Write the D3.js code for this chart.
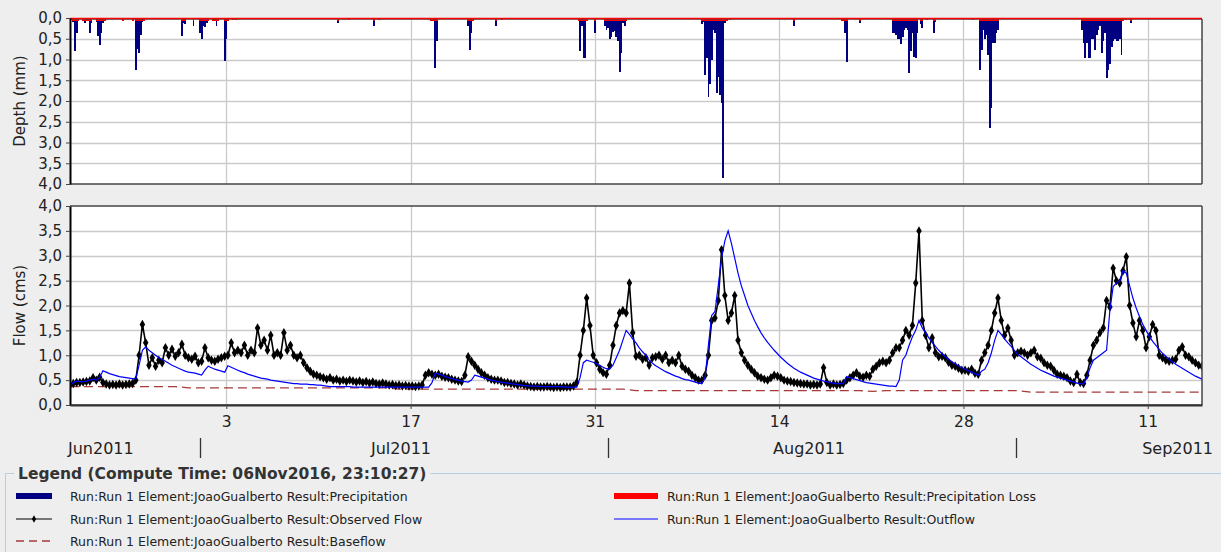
<!DOCTYPE html>
<html><head><meta charset="utf-8">
<script src="https://cdn.jsdelivr.net/npm/d3@7"></script>
<style>
html,body{margin:0;padding:0;background:#eeeeee;}
svg{display:block;font-family:"DejaVu Sans",sans-serif;}
</style></head><body>
<svg id="chart" width="1221" height="552"></svg>
<script>
// ---------------- DATA ----------------
const startTime = Date.UTC(2011, 5, 21, 3);   // 21Jun2011 03:00
const endTime   = Date.UTC(2011, 8, 15, 3);   // 15Sep2011 03:00
const flowStepHours = 6;

// Observed flow (cms), every 6 hours from startTime
const observedFlow = [
 0.40,0.43,0.45,0.45, 0.46,0.47,0.48,0.55, 0.50,0.56,0.45,0.42, 0.40,0.41,0.40,0.42,
 0.40,0.41,0.42,0.43, 0.50,1.00,1.62,1.25, 0.80,0.95,0.78,0.90, 0.85,1.15,1.00,1.12,
 0.98,1.05,1.22,1.00, 0.95,0.92,0.98,0.85, 0.88,1.15,0.95,0.90, 0.88,0.92,0.95,0.98,
 1.00,1.25,1.05,1.10, 1.05,1.20,1.00,1.10, 1.05,1.55,1.20,1.30, 1.10,1.40,1.00,1.05,
 1.00,1.45,1.10,1.20, 1.00,0.95,1.00,0.85, 0.75,0.68,0.62,0.60, 0.57,0.55,0.52,0.55,
 0.50,0.52,0.48,0.50, 0.47,0.50,0.48,0.46, 0.48,0.45,0.47,0.44, 0.46,0.43,0.42,0.44,
 0.42,0.40,0.41,0.39, 0.40,0.38,0.39,0.38, 0.38,0.37,0.38,0.40, 0.60,0.65,0.62,0.60,
 0.62,0.58,0.56,0.55, 0.52,0.50,0.48,0.47, 0.60,0.97,0.88,0.80, 0.72,0.65,0.60,0.55,
 0.52,0.50,0.50,0.48, 0.45,0.45,0.43,0.42, 0.40,0.42,0.40,0.38, 0.37,0.36,0.37,0.36,
 0.36,0.37,0.36,0.35, 0.36,0.35,0.36,0.36, 0.36,0.38,0.45,1.00, 1.50,2.15,1.60,1.00,
 0.85,0.72,0.65,0.62, 0.80,1.20,1.60,1.85, 1.90,1.85,2.45,1.45, 0.98,1.00,0.92,0.95,
 0.80,0.95,0.97,1.00, 0.92,1.00,0.85,0.90, 0.85,1.00,0.78,0.72, 0.68,0.60,0.55,0.50,
 0.50,0.60,1.00,1.70, 1.75,2.10,3.12,2.20, 1.70,1.85,2.20,1.30, 1.05,0.90,0.80,0.72,
 0.65,0.58,0.55,0.52, 0.50,0.55,0.60,0.58, 0.55,0.50,0.48,0.47, 0.45,0.44,0.43,0.42,
 0.42,0.40,0.41,0.40, 0.42,0.75,0.45,0.40, 0.42,0.40,0.41,0.43, 0.50,0.55,0.60,0.65,
 0.58,0.56,0.60,0.58, 0.72,0.78,0.85,0.88, 0.85,0.90,1.05,1.15, 1.15,1.30,1.50,1.40,
 1.60,2.45,3.50,1.70, 1.40,1.15,1.35,1.05, 0.97,0.98,0.95,0.86, 0.80,0.78,0.74,0.70,
 0.70,0.68,0.72,0.64, 0.62,0.90,1.05,1.20, 1.50,1.85,2.15,1.70, 1.40,1.55,1.30,1.00,
 1.05,1.08,1.05,1.00, 1.05,1.10,0.97,0.94, 0.85,0.80,0.78,0.70, 0.62,0.60,0.58,0.55,
 0.48,0.45,0.62,0.45, 0.43,0.60,0.90,1.20, 1.30,1.45,1.55,2.10, 1.97,2.75,2.50,2.45,
 2.70,2.98,2.00,1.65, 1.37,1.70,1.50,1.15, 1.37,1.62,1.50,1.00, 0.95,0.90,0.88,0.90,
 0.92,1.10,1.17,1.00, 0.97,0.90,0.85,0.80, 0.78
];

// Simulated outflow (cms), every 6 hours from startTime
const outflow = [
 0.38,0.45,0.48,0.47, 0.47,0.48,0.50,0.52, 0.50,0.55,0.69,0.66, 0.63,0.61,0.59,0.57,
 0.56,0.55,0.54,0.53, 0.53,0.80,1.10,1.17, 1.10,1.05,1.00,0.95, 0.92,0.88,0.84,0.80,
 0.77,0.74,0.71,0.68, 0.66,0.65,0.64,0.62, 0.60,0.70,0.78,0.75, 0.72,0.70,0.68,0.66,
 0.79,0.76,0.73,0.70, 0.67,0.65,0.62,0.60, 0.58,0.56,0.54,0.53, 0.52,0.50,0.49,0.48,
 0.47,0.46,0.45,0.44, 0.43,0.43,0.42,0.42, 0.42,0.41,0.41,0.40, 0.40,0.39,0.38,0.37,
 0.37,0.37,0.37,0.37, 0.37,0.37,0.36,0.36, 0.36,0.36,0.36,0.36, 0.36,0.36,0.36,0.36,
 0.36,0.36,0.36,0.36, 0.36,0.36,0.36,0.36, 0.36,0.36,0.36,0.36, 0.36,0.36,0.45,0.64,
 0.62,0.60,0.57,0.55, 0.53,0.51,0.50,0.48, 0.47,0.46,0.50,0.60, 0.58,0.56,0.54,0.52,
 0.50,0.49,0.47,0.46, 0.45,0.44,0.43,0.42, 0.41,0.40,0.39,0.39, 0.38,0.38,0.38,0.37,
 0.37,0.37,0.37,0.37, 0.37,0.37,0.36,0.36, 0.36,0.36,0.36,0.55, 0.85,0.90,0.88,0.86,
 0.83,0.80,0.76,0.73, 0.72,0.80,0.95,1.10, 1.30,1.50,1.42,1.33, 1.25,1.15,1.07,1.00,
 0.90,0.84,0.79,0.75, 0.71,0.67,0.64,0.61, 0.58,0.56,0.53,0.51, 0.50,0.48,0.46,0.44,
 0.43,0.55,1.20,1.80, 1.88,2.40,2.95,3.30, 3.50,3.25,2.95,2.65, 2.40,2.20,2.00,1.85,
 1.70,1.57,1.45,1.35, 1.26,1.18,1.10,1.03, 0.96,0.90,0.84,0.79, 0.74,0.70,0.66,0.63,
 0.60,0.57,0.54,0.52, 0.50,0.48,0.47,0.45, 0.44,0.43,0.43,0.43, 0.57,0.55,0.53,0.51,
 0.49,0.47,0.45,0.44, 0.43,0.42,0.41,0.40, 0.39,0.38,0.38,0.37, 0.50,0.90,1.00,1.20,
 1.37,1.50,1.70,1.55, 1.45,1.35,1.26,1.18, 1.10,1.03,0.97,0.92, 0.87,0.83,0.79,0.75,
 0.72,0.69,0.66,0.63, 0.60,0.68,0.72,0.85, 1.05,1.30,1.50,1.42, 1.33,1.25,1.18,1.10,
 1.02,0.97,0.92,0.87, 0.82,0.78,0.74,0.70, 0.67,0.64,0.61,0.58, 0.56,0.54,0.52,0.50,
 0.48,0.46,0.44,0.43, 0.42,0.55,0.75,0.90, 0.95,1.00,1.05,1.10, 1.90,2.38,2.45,2.50,
 2.70,2.65,2.40,2.15, 1.95,1.78,1.62,1.50, 1.38,1.28,1.20,1.12, 1.04,0.98,0.92,0.87,
 0.82,0.78,0.74,0.70, 0.66,0.62,0.58,0.55, 0.52
];

// Baseflow (cms), daily from startTime
const baseflowDaily = [
 0.37,0.37,0.37,0.37,0.37,0.37,0.37,0.37,0.37,
 0.345,0.345,0.345,0.345,0.345,0.345,0.345,0.345,0.345,0.345,0.345,0.345,0.345,0.345,0.345,0.345,
 0.32,0.32,0.32,0.32,0.32,0.32,0.32,0.32,0.32,0.32,0.32,0.32,0.32,0.32,0.32,0.32,0.32,0.32,
 0.29,0.29,0.29,0.29,0.29,0.29,0.29,0.29,0.29,0.29,0.29,0.29,0.29,0.29,0.29,0.29,0.29,0.29,
 0.275,
 0.29,0.29,0.29,0.29,0.29,0.29,0.29,0.29,0.29,0.29,0.29,
 0.26,0.26,0.26,0.26,0.26,0.26,0.26,0.26,0.26,0.26,0.26,0.26,0.26,0.26
];

// Precipitation (3-hour bars): hour offset from startTime, depth (mm)
const precipHours = [
 6,9,12,15, 24,27,30,33,36,39, 48,51,54,57,60,63, 96,114,
 120,123,126,129,132,135, 204,207,210, 225, 237,240,243,246,249,252,
 261,264,267,270, 282,285,288, 297,303, 489, 509, 554, 563,
 657,660,663,666,669, 726,729,732,735, 777,788,
 927,930,933,936,939,942, 957,
 975,978,981,984,987,990,993,996,999,1002,1005,1008,1011,1014,
 1152,1155,1158,1161,1164,1167,1170,1173,1176,1179,1182,1185,1188,1191,1194,1197,1203,
 1320, 1407,1410,1413,1416, 1440,
 1500,1503,1506,1509,1512,1515,1518,1521,1524,1527,1530,1533,1536,1539,1542,1545,
 1551,1554,1562,1575,1578,1646,
 1659,1662,1665,1668,1671,1674,1677,1680,1683,1686,1689,1692,
 1845,1848,1851,1854,1857,1860,1863,1866,1869,1872,1875,1878,1881,1884,1887,1890,
 1893,1896,1899,1902,1905,1908,1911,1914,1917,1920, 1926,1932,1935
];
const precipMm = [
 0.10,0.79,0.37,0.07, 0.07,0.13,0.07,0.07,0.37,0.13, 0.10,0.43,0.65,0.37,0.13,0.07, 0.07,0.07,
 1.25,0.75,0.85,0.40,0.10,0.07, 0.43,0.13,0.15, 0.20, 0.37,0.50,0.20,0.22,0.13,0.07,
 0.07,0.07,0.20,0.07, 1.04,0.50,0.07, 0.05,0.05, 0.13, 0.05, 0.20, 0.05,
 0.07,0.07,0.07,1.21,0.56, 0.20,0.76,0.37,0.07, 0.20,0.05,
 0.07,0.79,0.20,0.97,0.97,0.07, 0.37,
 0.20,0.30,0.25,0.50,0.45,0.33,0.32,0.45,0.55,1.30,0.85,0.13,0.20,0.07,
 0.15,0.10,1.37,0.97,1.90,1.60,1.00,0.30,0.35,1.80,1.42,1.85,2.06,3.86,0.13,0.07,0.05,
 0.20, 0.07,0.07,0.37,1.05, 0.13,
 0.37,0.37,0.40,0.50,0.50,0.62,0.45,0.30,0.25,0.30,1.33,0.80,0.35,0.93,0.96,0.35,
 0.15,0.25,0.05,0.37,0.10,0.05,
 1.25,0.78,0.30,0.50,0.40,0.88,2.66,2.18,0.60,0.60,0.37,0.30,
 0.30,0.60,0.96,0.60,0.96,0.96,0.50,0.50,0.78,0.40,0.30,0.20,0.85,0.56,0.35,1.45,
 1.25,1.10,0.70,0.55,0.50,0.55,0.55,0.50,0.88,0.07, 0.05,0.05,0.13
];
// Precipitation loss (mm) for the same bars
const precipLossMm = precipHours.map((h, i) => Math.min(precipMm[i], 0.07));

const depthTicks = [0, 0.5, 1, 1.5, 2, 2.5, 3, 3.5, 4];
const flowTicks  = [0, 0.5, 1, 1.5, 2, 2.5, 3, 3.5, 4];
const dayTickDates = ["2011-07-03", "2011-07-17", "2011-07-31", "2011-08-14", "2011-08-28", "2011-09-11"];
const monthLabels = ["Jun2011", "Jul2011", "Aug2011", "Sep2011"];
const monthStarts = ["2011-06-01", "2011-07-01", "2011-08-01", "2011-09-01", "2011-10-01"];
const legendTitle = "Legend (Compute Time: 06Nov2016, 23:10:27)";
const legendLabels = [
 "Run:Run 1 Element:JoaoGualberto Result:Precipitation",
 "Run:Run 1 Element:JoaoGualberto Result:Precipitation Loss",
 "Run:Run 1 Element:JoaoGualberto Result:Observed Flow",
 "Run:Run 1 Element:JoaoGualberto Result:Outflow",
 "Run:Run 1 Element:JoaoGualberto Result:Baseflow"
];

// ---------------- DRAWING ----------------
const svg = d3.select("#chart");
const W = 1221, H = 552;
const L = 70, R = 1202;
const top1 = 18, bot1 = 184, top2 = 206, bot2 = 405;
const C = {precip:"#000080", loss:"#ff0000", obs:"#000000", out:"#0000ff", base:"#a83a3a", grid:"#cbcbcb", frame:"#444"};

const parseDay = s => { const [y,m,d] = s.split("-").map(Number); return Date.UTC(y, m-1, d); };
const x = d3.scaleUtc().domain([startTime, endTime]).range([L, R]);
const yD = d3.scaleLinear().domain([0, 4]).range([top1, bot1]);
const yF = d3.scaleLinear().domain([0, 4]).range([bot2, top2]);
const loc = d3.formatLocale({decimal: ",", thousands: ".", grouping: [3], currency: ["", ""]});
const fmt = loc.format(".1f");

svg.append("rect").attr("width", W).attr("height", H).attr("fill", "#eeeeee");

const defs = svg.append("defs");
defs.append("clipPath").attr("id", "c1").append("rect").attr("x", L).attr("y", top1).attr("width", R-L).attr("height", bot1-top1);
defs.append("clipPath").attr("id", "c2").append("rect").attr("x", L).attr("y", top2).attr("width", R-L).attr("height", bot2-top2);

svg.append("rect").attr("x", L).attr("y", top1).attr("width", R-L).attr("height", bot1-top1).attr("fill", "#fff");
svg.append("rect").attr("x", L).attr("y", top2).attr("width", R-L).attr("height", bot2-top2).attr("fill", "#fff");

const dayTicks = dayTickDates.map(parseDay);

function grid(yScale, ticks, y0, y1) {
  const g = svg.append("g").attr("stroke", C.grid).attr("stroke-width", 1.3);
  ticks.forEach(t => {
    const yy = Math.round(yScale(t)) + 0.5;
    if (Math.abs(yy - y0) > 1 && Math.abs(yy - y1) > 1)
      g.append("line").attr("x1", L).attr("x2", R).attr("y1", yy).attr("y2", yy);
  });
  dayTicks.forEach(t => {
    const xx = Math.round(x(t)) + 0.5;
    g.append("line").attr("x1", xx).attr("x2", xx).attr("y1", y0).attr("y2", y1);
  });
}
grid(yD, depthTicks, top1, bot1);
grid(yF, flowTicks, top2, bot2);

// precipitation bars
const barW = x(startTime + 3*3600e3) - x(startTime);
const pg = svg.append("g").attr("clip-path", "url(#c1)").attr("shape-rendering", "crispEdges");
pg.selectAll("rect.p").data(precipHours).join("rect").attr("class", "p")
  .attr("x", h => x(startTime + h*3600e3) - barW/2).attr("width", barW + 0.2)
  .attr("y", yD(0)).attr("height", (h, i) => yD(precipMm[i]) - yD(0)).attr("fill", C.precip);
pg.selectAll("rect.l").data(precipHours).join("rect").attr("class", "l")
  .attr("x", h => x(startTime + h*3600e3) - barW/2).attr("width", barW + 0.2)
  .attr("y", yD(0)).attr("height", (h, i) => yD(precipLossMm[i]) - yD(0)).attr("fill", C.loss);

// flow lines
const fg = svg.append("g").attr("clip-path", "url(#c2)");
const tFlow = i => startTime + i*flowStepHours*3600e3;
const lineF = d3.line().x((d, i) => x(tFlow(i))).y(d => yF(d));
fg.append("path").datum(baseflowDaily)
  .attr("d", d3.line().x((d, i) => x(startTime + i*86400e3)).y(d => yF(d)))
  .attr("fill", "none").attr("stroke", C.base).attr("stroke-width", 1.3).attr("stroke-dasharray", "9,5");
fg.append("path").datum(observedFlow).attr("d", lineF).attr("fill", "none").attr("stroke", C.obs).attr("stroke-width", 1.6);
const diamond = d3.symbol(d3.symbolDiamond, 26);
fg.selectAll("path.m").data(observedFlow).join("path").attr("class", "m")
  .attr("transform", (d, i) => `translate(${x(tFlow(i))},${yF(d)})`).attr("d", diamond).attr("fill", C.obs);
fg.append("path").datum(outflow).attr("d", lineF).attr("fill", "none").attr("stroke", C.out).attr("stroke-width", 1.2);

function frame(y0, y1) {
  const g = svg.append("g").attr("stroke", C.frame).attr("stroke-width", 1.5).attr("fill", "none");
  g.append("line").attr("x1", R).attr("x2", R).attr("y1", y0).attr("y2", y1);
  g.append("line").attr("x1", L).attr("x2", R).attr("y1", y0).attr("y2", y0);
  g.append("line").attr("x1", L).attr("x2", R).attr("y1", y1).attr("y2", y1);
}
frame(top2, bot2);
frame(top1 + 1, bot1);
// loss series baseline at zero depth
svg.append("line").attr("x1", L).attr("x2", R).attr("y1", yD(0)+0.5).attr("y2", yD(0)+0.5)
  .attr("stroke", C.loss).attr("stroke-width", 1.6);

function styleAxis(g, size) {
  g.select(".domain").attr("stroke", "#000").attr("stroke-width", 2);
  g.selectAll(".tick line").attr("stroke", "#444");
  g.selectAll(".tick text").attr("fill", "#222").style("font-size", size + "px").style("font-family", "DejaVu Sans");
}
svg.append("g").attr("transform", `translate(${L},0)`)
  .call(d3.axisLeft(yD).tickValues(depthTicks).tickFormat(fmt).tickSize(4).tickPadding(4).tickSizeOuter(0))
  .call(g => styleAxis(g, 15));
svg.append("g").attr("transform", `translate(${L},0)`)
  .call(d3.axisLeft(yF).tickValues(flowTicks).tickFormat(fmt).tickSize(4).tickPadding(4).tickSizeOuter(0))
  .call(g => styleAxis(g, 15));
svg.append("g").attr("transform", `translate(0,${bot2})`)
  .call(d3.axisBottom(x).tickValues(dayTicks).tickFormat(d3.utcFormat("%-d")).tickSize(4).tickPadding(7).tickSizeOuter(0))
  .call(g => { styleAxis(g, 15.5); g.select(".domain").attr("stroke", "#333"); });

svg.append("text").attr("transform", `translate(25,${(top1+bot1)/2}) rotate(-90)`)
  .attr("text-anchor", "middle").style("font-size", "15px").attr("fill", "#222").text("Depth (mm)");
svg.append("text").attr("transform", `translate(25,${(top2+bot2)/2}) rotate(-90)`)
  .attr("text-anchor", "middle").style("font-size", "15px").attr("fill", "#222").text("Flow (cms)");

const mStarts = monthStarts.map(parseDay);
const mg = svg.append("g");
mStarts.forEach(t => {
  if (t > startTime && t < endTime) {
    const xx = Math.round(x(t)) + 0.5;
    mg.append("line").attr("x1", xx).attr("x2", xx).attr("y1", 438).attr("y2", 458).attr("stroke", "#333").attr("stroke-width", 1.3);
  }
});
monthLabels.forEach((lab, i) => {
  const mid = x((mStarts[i] + mStarts[i+1]) / 2);
  const t = mg.append("text").attr("y", 453.5).style("font-size", "16px").attr("fill", "#222").text(lab);
  const w = t.node().getComputedTextLength();
  let xx = mid - w/2 - 3;
  if (xx < L - 2) xx = L - 2;
  if (xx + w > 1213) xx = 1213 - w;
  t.attr("x", xx);
});

// legend
const lg = svg.append("g");
const title = lg.append("text").attr("x", 18).attr("y", 479).style("font-size", "15.5px").style("font-weight", "bold")
  .attr("fill", "#333").text(legendTitle);
const tw = title.node().getComputedTextLength();
lg.append("line").attr("x1", 5.5).attr("x2", 14).attr("y1", 473.5).attr("y2", 473.5).attr("stroke", "#b9cde0");
lg.append("line").attr("x1", 18 + tw + 4).attr("x2", W).attr("y1", 473.5).attr("y2", 473.5).attr("stroke", "#b9cde0");
lg.append("line").attr("x1", 5.5).attr("x2", 5.5).attr("y1", 473.5).attr("y2", H).attr("stroke", "#b9cde0");

const rows = [496.5, 519, 541];
const colL = {s0: 16, s1: 52, tx: 70}, colR = {s0: 614, s1: 658, tx: 667};
function legText(col, y, s) {
  lg.append("text").attr("x", col.tx).attr("y", y + 4.5).style("font-size", "12.5px").attr("fill", "#222").text(s);
}
lg.append("rect").attr("x", colL.s0).attr("y", rows[0]-3.5).attr("width", colL.s1-colL.s0).attr("height", 6).attr("fill", C.precip);
legText(colL, rows[0], legendLabels[0]);
lg.append("rect").attr("x", colR.s0).attr("y", rows[0]-3.5).attr("width", colR.s1-colR.s0).attr("height", 6).attr("fill", C.loss);
legText(colR, rows[0], legendLabels[1]);
lg.append("line").attr("x1", colL.s0).attr("x2", colL.s1).attr("y1", rows[1]).attr("y2", rows[1]).attr("stroke", C.obs).attr("stroke-width", 1.2);
lg.append("path").attr("transform", `translate(${(colL.s0+colL.s1)/2},${rows[1]})`).attr("d", d3.symbol(d3.symbolDiamond, 16)).attr("fill", C.obs);
legText(colL, rows[1], legendLabels[2]);
lg.append("line").attr("x1", colR.s0).attr("x2", colR.s1).attr("y1", rows[1]).attr("y2", rows[1]).attr("stroke", C.out).attr("stroke-width", 1.2);
legText(colR, rows[1], legendLabels[3]);
lg.append("line").attr("x1", colL.s0).attr("x2", colL.s1).attr("y1", rows[2]).attr("y2", rows[2]).attr("stroke", C.base).attr("stroke-width", 1.3).attr("stroke-dasharray", "8,5");
legText(colL, rows[2], legendLabels[4]);
</script>
</body></html>
